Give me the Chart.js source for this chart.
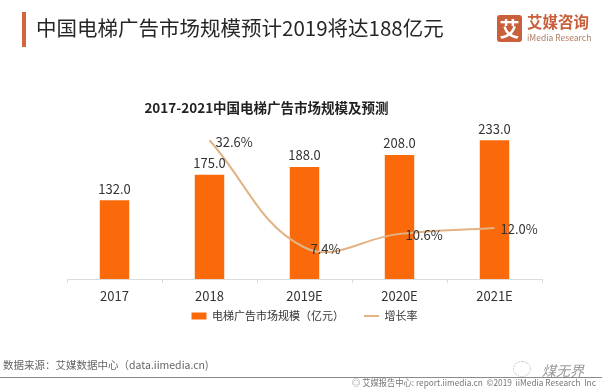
<!DOCTYPE html>
<html>
<head>
<meta charset="utf-8">
<script src="https://cdn.jsdelivr.net/npm/chart.js@4"></script>
<style>
html,body{margin:0;padding:0;background:#fff;}
body{width:611px;height:392px;position:relative;overflow:hidden;font-family:"Noto Sans CJK SC","Noto Sans",sans-serif;}
#wrap{position:absolute;left:0;top:0;width:611px;height:392px;}
.t{position:absolute;white-space:nowrap;line-height:1;}
</style>
</head>
<body>
<div id="wrap"><canvas id="c" width="611" height="392"></canvas></div>
<div class="t" style="left:22px;top:12px;width:4px;height:35px;background:#d4643d;"></div>
<div class="t" style="left:36px;top:16.8px;font-size:20.5px;color:#262626;">中国电梯广告市场规模预计2019将达188亿元</div>
<div class="t" style="left:497px;top:15px;width:25px;height:27px;background:#c9603b;border-radius:3px;color:#fff;font-size:20px;font-weight:bold;text-align:center;line-height:27px;">艾</div>
<div class="t" style="left:527px;top:14px;font-size:15.5px;font-weight:bold;color:#c9603b;">艾媒咨询</div>
<div class="t" style="left:527px;top:33px;font-size:8.5px;color:#b07a62;">iMedia Research</div>
<div class="t" style="left:266.5px;top:100.5px;transform:translateX(-50%);font-size:13.5px;font-weight:bold;color:#222;">2017-2021中国电梯广告市场规模及预测</div>
<div class="t" style="left:3px;top:359.8px;font-size:10.5px;color:#666;">数据来源：艾媒数据中心（data.iimedia.cn)</div>
<div class="t" style="left:513px;top:361px;width:16px;height:14px;border:1px dotted #bbb;border-radius:50%;"></div>
<div class="t" style="left:542px;top:363px;font-size:14px;color:#999;font-style:italic;">煤无界</div>
<div class="t" style="left:0px;top:376.5px;width:602px;height:1.5px;background:#8a8a8a;"></div>
<div class="t" style="left:352px;top:378px;font-size:9px;color:#777;transform:scaleX(0.92);transform-origin:0 0;">◎ 艾媒报告中心: report.iimedia.cn&nbsp;&nbsp;©2019&nbsp;&nbsp;iiMedia Research&nbsp;&nbsp;Inc</div>
<script>
const categories = ['2017', '2018', '2019E', '2020E', '2021E'];
const marketSize = [132.0, 175.0, 188.0, 208.0, 233.0];
const growthRate = [null, 32.6, 7.4, 10.6, 12.0];
const seriesNames = ['电梯广告市场规模（亿元）', '增长率'];

Chart.defaults.font.family = '"Noto Sans CJK SC","Noto Sans",sans-serif';

const valueLabels = {
  id: 'valueLabels',
  afterLayout(chart) {
    const lg = chart.legend;
    if (lg) { lg.top -= 18; lg.bottom -= 18; }
  },
  afterDatasetsDraw(chart) {
    const ctx = chart.ctx;
    ctx.save();
    ctx.font = '13px "Noto Sans CJK SC"';
    ctx.fillStyle = '#333';
    const barMeta = chart.getDatasetMeta(0);
    barMeta.data.forEach((el, i) => {
      ctx.textAlign = 'center';
      ctx.textBaseline = 'middle';
      ctx.fillText(marketSize[i].toFixed(1), el.x, el.y - 11.5);
    });
    const lineMeta = chart.getDatasetMeta(1);
    lineMeta.data.forEach((el, i) => {
      if (growthRate[i] == null) return;
      ctx.textAlign = 'left';
      ctx.textBaseline = 'middle';
      ctx.fillText(growthRate[i].toFixed(1) + '%', el.x + 6, el.y + 1.5);
    });
    ctx.restore();
  }
};

new Chart(document.getElementById('c'), {
  data: {
    labels: categories,
    datasets: [
      {
        type: 'bar',
        label: seriesNames[0],
        data: marketSize,
        backgroundColor: '#fa6a0a',
        yAxisID: 'y',
        barPercentage: 0.31,
        categoryPercentage: 1,
        pointStyle: 'rect',
        order: 2
      },
      {
        type: 'line',
        label: seriesNames[1],
        data: growthRate,
        borderColor: '#e3b385',
        backgroundColor: '#e3b385',
        borderWidth: 2,
        tension: 0.4,
        pointRadius: 0,
        pointStyle: 'line',
        fill: false,
        yAxisID: 'y2',
        order: 1
      }
    ]
  },
  options: {
    responsive: false,
    animation: false,
    layout: { padding: { left: 67, right: 69, top: 130, bottom: 42.4 } },
    plugins: {
      legend: {
        position: 'bottom',
        labels: {
          usePointStyle: true,
          pointStyleWidth: 15,
          boxHeight: 7,
          padding: 20,
          color: '#333',
          font: { size: 11 },
          sort: (a, b) => a.datasetIndex - b.datasetIndex
        }
      },
      tooltip: { enabled: false }
    },
    scales: {
      x: {
        grid: { display: true, offset: true, drawOnChartArea: false, drawTicks: true, tickLength: 4, color: '#dcdcdc' },
        border: { display: true, color: '#dcdcdc' },
        ticks: { color: '#333', font: { size: 13 }, padding: 5 }
      },
      y: { display: false, min: 0, max: 250 },
      y2: { display: false, min: 0, max: 35, position: 'right' }
    }
  },
  plugins: [valueLabels]
});
</script>
</body>
</html>
